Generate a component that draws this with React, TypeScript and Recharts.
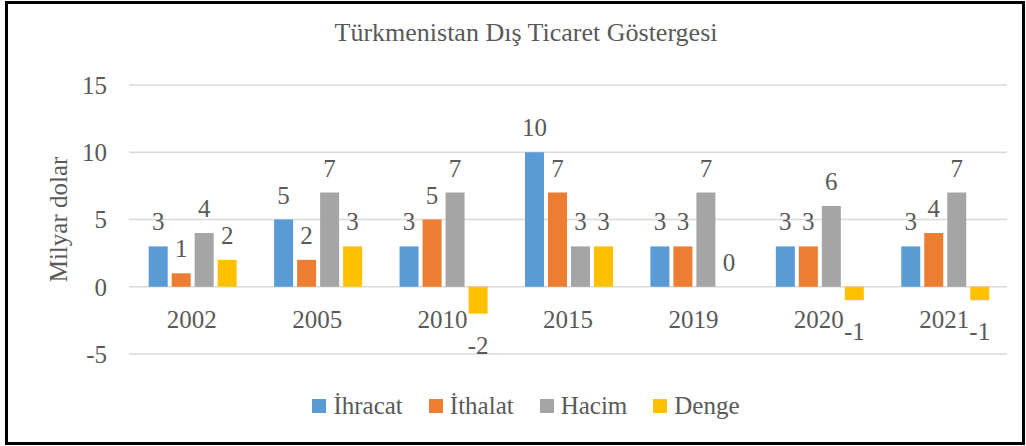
import React from 'react'
import { BarChart, Bar, XAxis, YAxis, CartesianGrid, Legend, LabelList } from 'recharts'

const years = ['2002', '2005', '2010', '2015', '2019', '2020', '2021']
const ihracat = [3, 5, 3, 10, 3, 3, 3]
const ithalat = [1, 2, 5, 7, 3, 3, 4]
const hacim = [4, 7, 7, 3, 7, 6, 7]
const denge = [2, 3, -2, 3, 0, -1, -1]
const yTicks = [-5, 0, 5, 10, 15]

const seriesInfo = [
  { key: 'ihracat', name: 'İhracat', color: '#5B9BD5' },
  { key: 'ithalat', name: 'İthalat', color: '#ED7D31' },
  { key: 'hacim', name: 'Hacim', color: '#A5A5A5' },
  { key: 'denge', name: 'Denge', color: '#FFC000' },
]

const data = years.map((year, i) => ({
  year,
  ihracat: ihracat[i],
  ithalat: ithalat[i],
  hacim: hacim[i],
  denge: denge[i],
}))

const FONT = 'Liberation Serif, Tinos, DejaVu Serif, serif'
const TEXT = '#595959'

// Excel-style labels: above positive bars, below negative ones
function ValueLabel(props: any) {
  const { x, y, width, height, value } = props
  const top = Math.min(y, y + height)
  const bottom = Math.max(y, y + height)
  const cx = x + width / 2
  if (value < 0) {
    return (
      <text x={cx} y={bottom + 40} textAnchor="middle" fill={TEXT} fontSize={25} fontFamily={FONT}>
        {value}
      </text>
    )
  }
  return (
    <text x={cx} y={top - 16} textAnchor="middle" fill={TEXT} fontSize={25} fontFamily={FONT}>
      {value}
    </text>
  )
}

function YearTick(props: any) {
  const { x, y, payload } = props
  return (
    <text x={x} y={y} dy={-32} textAnchor="middle" fill={TEXT} fontSize={25} fontFamily={FONT}>
      {payload.value}
    </text>
  )
}

function LegendContent() {
  return (
    <div style={{ display: 'flex', justifyContent: 'center', paddingLeft: 26, fontFamily: FONT, fontSize: 25, color: TEXT }}>
      {seriesInfo.map((s, i) => (
        <span key={s.key} style={{ display: 'flex', alignItems: 'center', marginLeft: i === 0 ? 0 : 26 }}>
          <span style={{ width: 14, height: 14, background: s.color, marginRight: 7, display: 'inline-block' }} />
          {s.name}
        </span>
      ))}
    </div>
  )
}

export default function App() {
  return (
    <div style={{ position: 'absolute', left: 0, top: 0, width: 1026, height: 446, background: '#fff' }}>
      <div
        style={{
          position: 'absolute',
          left: 5,
          top: 1,
          width: 1020,
          height: 444,
          border: '3px solid #000',
          boxSizing: 'border-box',
        }}
      />
      <div
        style={{
          position: 'absolute',
          left: 0,
          top: 20,
          width: 1026,
          paddingLeft: 26,
          boxSizing: 'border-box',
          textAlign: 'center',
          fontFamily: FONT,
          fontSize: 26,
          lineHeight: '26px',
          color: TEXT,
        }}
      >
        Türkmenistan Dış Ticaret Göstergesi
      </div>
      <div style={{ position: 'absolute', left: 0, top: 0 }}>
        <BarChart
          width={1026}
          height={446}
          data={data}
          margin={{ top: 85, right: 19, bottom: 62, left: 0 }}
          barCategoryGap="15.7%"
          barGap={4}
        >
          <CartesianGrid horizontal vertical={false} stroke="#D9D9D9" strokeWidth={1.5} />
          <XAxis
            dataKey="year"
            height={30}
            axisLine={false}
            tickLine={false}
            tickMargin={0}
            tick={<YearTick />}
            interval={0}
          />
          <YAxis
            width={129}
            domain={[-5, 15]}
            ticks={yTicks}
            axisLine={false}
            tickLine={false}
            tickMargin={16}
            tick={{ fontSize: 25, fill: TEXT, fontFamily: FONT }}
            label={{
              value: 'Milyar dolar',
              angle: -90,
              position: 'center',
              dx: -6,
              style: { fontSize: 25, fill: TEXT, fontFamily: FONT, textAnchor: 'middle' },
            }}
          />
          <Legend
            verticalAlign="middle"
            align="center"
            wrapperStyle={{ top: 392, left: 0, width: 1026 }}
            content={<LegendContent />}
          />
          {seriesInfo.map((s) => (
            <Bar
              key={s.key}
              dataKey={s.key}
              name={s.name}
              fill={s.color}
              minPointSize={(v: number) => (v === 0 ? 0.01 : 0)}
              isAnimationActive={false}
            >
              <LabelList dataKey={s.key} content={<ValueLabel />} />
            </Bar>
          ))}
        </BarChart>
      </div>
    </div>
  )
}
